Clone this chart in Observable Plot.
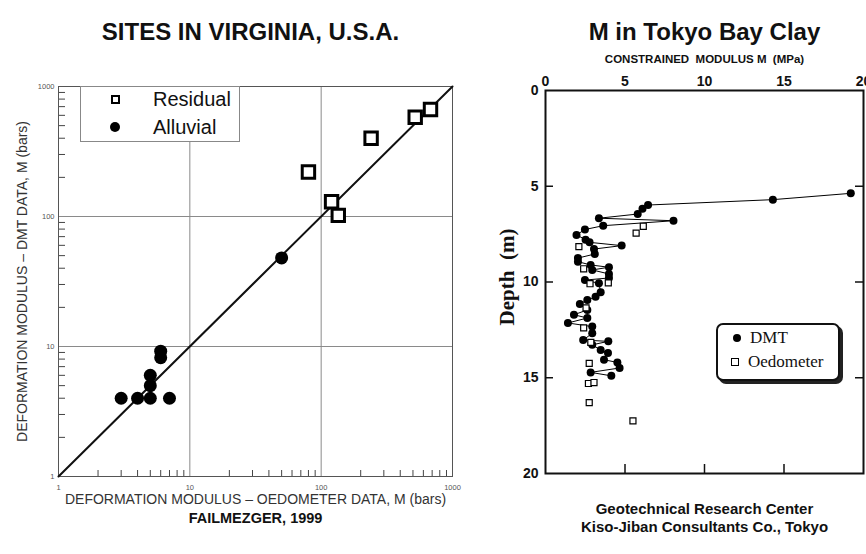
<!DOCTYPE html>
<html><head><meta charset="utf-8">
<script src="https://cdn.jsdelivr.net/npm/d3@7"></script>
<script src="https://cdn.jsdelivr.net/npm/@observablehq/plot@0.6"></script>
<style>
body{margin:0;background:#fff;}
#wrap{position:relative;width:866px;height:554px;overflow:hidden;font-family:"Liberation Sans",Arial,sans-serif;background:#fff;}
#wrap svg{position:absolute;top:0;}
.leg{position:absolute;background:#fff;box-sizing:border-box;}
.leg div{position:absolute;box-sizing:border-box;}
.leg span{position:absolute;white-space:nowrap;}
</style></head><body><div id="wrap"></div>
<script>
// ---------- Left panel: Virginia sites (log-log) ----------
const residualOedometer = [80, 120, 135, 240, 520, 680];
const residualDmt = [220, 130, 102, 400, 580, 665];
const alluvialOedometer = [3, 4, 5, 7, 5, 5, 6, 6, 50];
const alluvialDmt = [4, 4, 4, 4, 5, 6, 8.2, 9.2, 48];
const logTicks = [1, 10, 100, 1000];
const logGrid = [10, 100];
const logMinor = [2, 3, 4, 5, 6, 7, 8, 9, 20, 30, 40, 50, 60, 70, 80, 90, 200, 300, 400, 500, 600, 700, 800, 900];
const identityLine = [1, 1000];
const leftTitle = "SITES IN VIRGINIA, U.S.A.";
const leftXLabel = "DEFORMATION MODULUS \u2013 OEDOMETER DATA, M (bars)";
const leftYLabel = "DEFORMATION MODULUS \u2013 DMT DATA, M (bars)";
const leftCaption = "FAILMEZGER, 1999";
const leftLegend = ["Residual", "Alluvial"];

// ---------- Right panel: Tokyo Bay clay ----------
const dmtDepth = [5.37, 5.70, 5.98, 6.18, 6.45, 6.67, 6.80, 7.06, 7.26, 7.54, 7.79, 7.93, 8.10, 8.28, 8.54, 8.75, 8.94, 9.11, 9.23, 9.37, 9.58, 9.79, 9.90, 10.07, 10.54, 10.77, 10.94, 11.15, 11.46, 11.71, 11.88, 12.14, 12.33, 12.68, 13.03, 13.10, 13.28, 13.55, 13.71, 14.06, 14.20, 14.49, 14.72, 14.90];
const dmtM = [19.2, 14.3, 6.45, 6.1, 5.8, 3.36, 8.05, 3.63, 2.48, 1.95, 2.52, 2.77, 4.79, 3.05, 3.1, 2.04, 2.04, 2.84, 3.99, 2.94, 3.99, 3.99, 2.48, 3.36, 3.47, 3.15, 2.63, 2.16, 2.63, 1.79, 2.63, 1.41, 2.94, 2.94, 2.37, 3.95, 2.94, 3.47, 3.93, 3.68, 4.52, 4.66, 2.84, 4.14];
const oedDepth = [7.09, 7.45, 8.15, 9.31, 10.05, 10.09, 11.35, 12.4, 13.15, 14.25, 15.3, 15.25, 16.3, 17.25];
const oedM = [6.15, 5.7, 2.1, 2.4, 3.95, 2.8, 2.55, 2.4, 2.85, 2.75, 2.7, 3.05, 2.75, 5.5];
const modulusTicks = [0, 5, 10, 15, 20];
const depthTicks = [0, 5, 10, 15, 20];
const innerTicks = [5, 10, 15];
const rightTitle = "M in Tokyo Bay Clay";
const rightSubtitle = "CONSTRAINED  MODULUS M  (MPa)";
const rightYLabel = "Depth  (m)";
const rightCaption1 = "Geotechnical Research Center";
const rightCaption2 = "Kiso-Jiban Consultants Co., Tokyo";
const rightLegend = ["DMT", "Oedometer"];

const H = 554;
const sans = "Liberation Sans, Arial, sans-serif";
const serif = "Liberation Serif, Times New Roman, serif";

// ----- left plot -----
const lw = 480, lmL = 58, lmR = 28, lmT = 86, lmB = 78;
const lpw = lw - lmL - lmR, lph = H - lmT - lmB;
const residual = residualOedometer.map((x, i) => ({x, y: residualDmt[i]}));
const alluvial = alluvialOedometer.map((x, i) => ({x, y: alluvialDmt[i]}));

const left = Plot.plot({
  width: lw, height: H,
  marginLeft: lmL, marginRight: lmR, marginTop: lmT, marginBottom: lmB,
  style: {fontFamily: sans, background: "transparent"},
  x: {type: "log", domain: [1, 1000]},
  y: {type: "log", domain: [1, 1000]},
  marks: [
    Plot.ruleX(logGrid, {x: d => d, stroke: "#8a8a8a", strokeWidth: 1}),
    Plot.ruleY(logGrid, {y: d => d, stroke: "#8a8a8a", strokeWidth: 1}),
    Plot.tickX(logMinor, {x: d => d, insetTop: lph - 6, stroke: "#444"}),
    Plot.tickY(logMinor, {y: d => d, insetRight: lpw - 7, stroke: "#444"}),
    Plot.frame({stroke: "#555"}),
    Plot.axisX(logTicks, {anchor: "bottom", tickSize: 0, tickPadding: 8, fontSize: 7.5, fill: "#555", label: null, tickFormat: d => String(d)}),
    Plot.axisY(logTicks, {anchor: "left", tickSize: 0, tickPadding: 4, fontSize: 7.5, fill: "#555", label: null, tickFormat: d => String(d)}),
    Plot.line(identityLine, {x: d => d, y: d => d, stroke: "#111", strokeWidth: 2}),
    Plot.dot(residual, {x: "x", y: "y", symbol: "square", r: 7, stroke: "#000", strokeWidth: 3, fill: "#fff"}),
    Plot.dot(alluvial, {x: "x", y: "y", r: 6.5, fill: "#000", stroke: "none"}),
    Plot.text([leftTitle], {text: d => d, frameAnchor: "top", dy: -64, dx: -5, fontSize: 24, fontWeight: "bold", fill: "#111"}),
    Plot.text([leftXLabel], {text: d => d, frameAnchor: "bottom", dy: 27, fontSize: 14, fill: "#333"}),
    Plot.text([leftYLabel], {text: d => d, frameAnchor: "left", textAnchor: "middle", rotate: -90, dx: -36, fontSize: 14, fill: "#333"}),
    Plot.text([leftCaption], {text: d => d, frameAnchor: "bottom", dy: 46, fontSize: 14.5, fontWeight: "bold", fill: "#111"})
  ]
});
left.style.left = "0px";

// ----- right plot -----
const rw = 386, rmL = 65, rmR = 3, rmT = 90, rmB = 81;
const rpw = rw - rmL - rmR, rph = H - rmT - rmB;
const dmt = dmtDepth.map((d, i) => ({d, m: dmtM[i]}));
const oed = oedDepth.map((d, i) => ({d, m: oedM[i]}));

const right = Plot.plot({
  width: rw, height: H,
  marginLeft: rmL, marginRight: rmR, marginTop: rmT, marginBottom: rmB,
  style: {fontFamily: sans, background: "transparent"},
  x: {domain: [0, 20]},
  y: {domain: [0, 20], reverse: true},
  marks: [
    Plot.tickX(innerTicks, {x: d => d, insetTop: rph - 9, stroke: "#111", strokeWidth: 1.5}),
    Plot.tickY(innerTicks, {y: d => d, insetRight: rpw - 8, stroke: "#111", strokeWidth: 1.5}),
    Plot.tickY(innerTicks, {y: d => d, insetLeft: rpw - 8, stroke: "#111", strokeWidth: 1.5}),
    Plot.frame({stroke: "#111", strokeWidth: 2}),
    Plot.axisX(modulusTicks, {anchor: "top", tickSize: 0, tickPadding: 5, fontSize: 14, fontWeight: "bold", fill: "#111", label: null}),
    Plot.axisY(depthTicks, {anchor: "left", tickSize: 0, tickPadding: 7, fontSize: 14, fontWeight: "bold", fill: "#111", label: null}),
    Plot.line(dmt, {x: "m", y: "d", stroke: "#000", strokeWidth: 1}),
    Plot.dot(dmt, {x: "m", y: "d", r: 4, fill: "#000", stroke: "none"}),
    Plot.dot(oed, {x: "m", y: "d", symbol: "square", r: 3.4, fill: "#fff", stroke: "#000", strokeWidth: 1.2}),
    Plot.text([rightTitle], {text: d => d, frameAnchor: "top", dy: -68, fontSize: 24, fontWeight: "bold", fill: "#111"}),
    Plot.text([rightSubtitle], {text: d => d, frameAnchor: "top", dy: -36, fontSize: 11.5, fontWeight: "bold", fill: "#111"}),
    Plot.text([rightYLabel], {text: d => d, frameAnchor: "left", textAnchor: "middle", rotate: -90, dx: -38, dy: -5, fontFamily: serif, fontSize: 21, fontWeight: "bold", fill: "#111"}),
    Plot.text([rightCaption1], {text: d => d, frameAnchor: "bottom", dy: 40, fontSize: 15, fontWeight: "bold", fill: "#111"}),
    Plot.text([rightCaption2], {text: d => d, frameAnchor: "bottom", dy: 58, fontSize: 15, fontWeight: "bold", fill: "#111"})
  ]
});
right.style.left = "480px";

const wrap = document.getElementById("wrap");
wrap.appendChild(left);
wrap.appendChild(right);

// ----- legends (HTML overlays) -----
const lLeg = document.createElement("div");
lLeg.className = "leg";
lLeg.style.cssText = "left:80px;top:86px;width:160px;height:56px;border:1px solid #888;";
lLeg.innerHTML =
  `<div style="left:30px;top:8px;width:9px;height:9px;border:2.2px solid #000;background:#fff"></div>` +
  `<span style="left:72px;top:1px;font-size:20px;line-height:22px;color:#111">${leftLegend[0]}</span>` +
  `<div style="left:29px;top:35px;width:10px;height:10px;border-radius:50%;background:#000"></div>` +
  `<span style="left:72px;top:29px;font-size:20px;line-height:22px;color:#111">${leftLegend[1]}</span>`;
wrap.appendChild(lLeg);

const rLeg = document.createElement("div");
rLeg.className = "leg";
rLeg.style.cssText = "left:716px;top:323px;width:124px;height:58px;border:2px solid #111;border-radius:7px;box-shadow:3px 3px 0 #222;font-family:'Liberation Serif',serif;";
rLeg.innerHTML =
  `<div style="left:15px;top:9px;width:8px;height:8px;border-radius:50%;background:#000"></div>` +
  `<span style="left:32px;top:3px;font-size:17px;line-height:20px;color:#111">${rightLegend[0]}</span>` +
  `<div style="left:13px;top:33px;width:8px;height:8px;border:1.3px solid #000;background:#fff"></div>` +
  `<span style="left:30px;top:27px;font-size:17px;line-height:20px;color:#111">${rightLegend[1]}</span>`;
wrap.appendChild(rLeg);
</script></body></html>
